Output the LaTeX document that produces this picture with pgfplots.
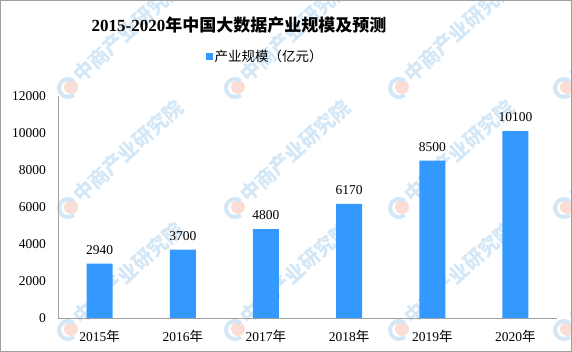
\documentclass[border=0pt]{standalone}
\usepackage{pgfplots}
\pgfplotsset{compat=1.18}
\usepackage{fontspec}
\setmainfont{Liberation Serif}
\newfontfamily\cjk{Noto Sans CJK SC}
\definecolor{barblue}{RGB}{51,153,255}
\definecolor{axgray}{RGB}{160,160,160}
\definecolor{wmblue}{RGB}{212,231,246}
\definecolor{wmred}{RGB}{250,222,214}
\begin{document}
\begin{tikzpicture}
\useasboundingbox (0,0) rectangle (572bp,352bp);
% watermark
\begin{scope}
\clip (0,0) rectangle (572bp,352bp);
\foreach \x in {68,235,399,564}{
  \foreach \y in {88,208,330}{
    \fill[wmred] (\x bp+3bp,352bp-\y bp+1bp) circle (7bp);
    \draw[wmblue, line width=4bp] ([shift={(\x bp,352bp-\y bp)}]50:9bp) arc (50:310:9bp);
    \node[anchor=west, rotate=42, text=wmblue, font=\cjk\fontsize{20bp}{22bp}\selectfont\bfseries, inner sep=0pt] at (\x bp+8bp,352bp-\y bp+10bp) {中商产业研究院};
  }
}
\end{scope}
\draw[axgray, line width=1bp] (0.5bp,0.5bp) rectangle (571.5bp,351.5bp);
\node[font={\fontsize{17bp}{20bp}\selectfont\bfseries}] at (239bp,327bp) {2015-2020{\cjk 年中国大数据产业规模及预测}};
\begin{axis}[
  at={(58bp,34bp)}, anchor=south west,
  scale only axis, width=499bp, height=222bp,
  ybar, bar width=26bp,
  xmin=-0.5, xmax=5.5, ymin=0, ymax=12000,
  xtick={0,1,2,3,4,5},
  xticklabels={2015{\cjk 年},2016{\cjk 年},2017{\cjk 年},2018{\cjk 年},2019{\cjk 年},2020{\cjk 年}},
  ytick={0,2000,4000,6000,8000,10000,12000},
  scaled y ticks=false,
  /pgf/number format/.cd, 1000 sep={}, assume math mode=true, /pgfplots/.cd,
  axis x line*=bottom, axis y line*=left,
  axis line style={axgray, line width=1bp},
  major tick length=0pt,
  tick label style={font=\fontsize{13.5bp}{15bp}\selectfont},
  xticklabel style={inner sep=0pt, yshift=-12bp},
  yticklabel style={inner sep=0pt, xshift=-12bp},
  nodes near coords,
  every node near coord/.append style={font=\fontsize{13.5bp}{15bp}\selectfont, inner sep=0pt, anchor=south, yshift=9bp, text=black},
  legend style={at={(0.415,1.176)}, anchor=center, draw=none, fill=none, font=\cjk\fontsize{13.5bp}{15bp}\selectfont, inner sep=0pt},
  legend image code/.code={\fill[barblue] (0bp,-3.5bp) rectangle (7bp,3.5bp);},
]
\addplot[fill=barblue, draw=none] coordinates {(0,2940) (1,3700) (2,4800) (3,6170) (4,8500) (5,10100)};
\addlegendentry{产业规模（亿元）}
\end{axis}
\end{tikzpicture}
\end{document}
